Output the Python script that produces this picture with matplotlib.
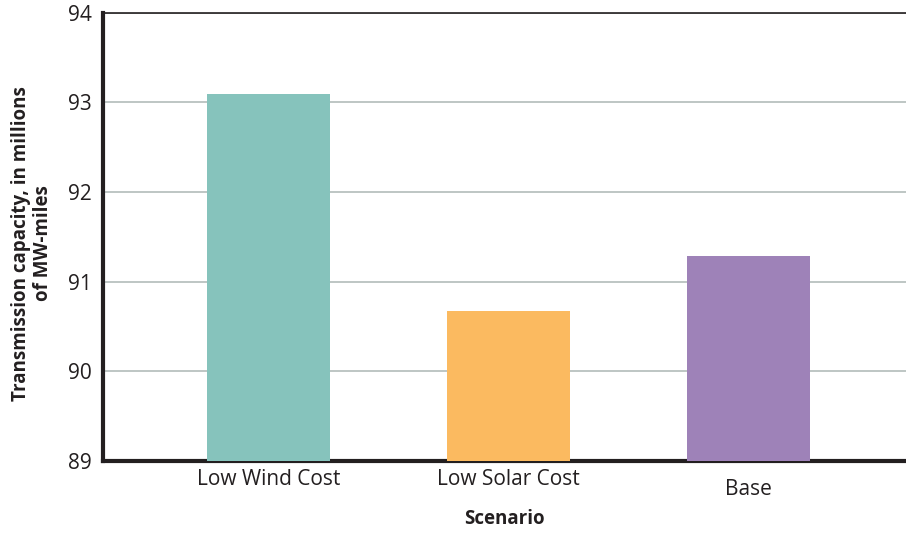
import matplotlib.pyplot as plt
import numpy as np

plt.rcParams['font.family'] = ['Open Sans', 'DejaVu Sans']

# scenario results
scenarios = ['Low Wind Cost', 'Low Solar Cost', 'Base']
capacity = [93.09, 90.67, 91.29]
colors = ['#86c3bc', '#fbba60', '#9e82b8']

fig = plt.figure(figsize=(9.06, 5.33), dpi=100)
ax = fig.add_axes([0.1137, 0.135, 0.8863, 0.8415])

x = np.arange(len(scenarios))
ax.bar(x, capacity, width=0.51, color=colors, zorder=3)

ax.set_ylim(89, 94)
ax.set_xlim(-0.69, 2.656)
ax.set_yticks(range(89, 95))
ax.set_xticks(x)
ax.set_xticklabels(scenarios)
ax.yaxis.grid(True, color='#b9c1bf', linewidth=1.3, zorder=0)

ax.tick_params(axis='both', length=0, labelsize=15, colors='#231f20')
ax.tick_params(axis='y', pad=8)
ax.tick_params(axis='x', pad=6)
ax.xaxis.get_major_ticks()[2].set_pad(13)

for s in ['left', 'bottom']:
    ax.spines[s].set_linewidth(3)
    ax.spines[s].set_color('#231f20')
ax.spines['top'].set_linewidth(1.2)
ax.spines['top'].set_color('#231f20')
ax.spines['right'].set_visible(False)

ax.set_ylabel('Transmission capacity, in millions\nof MW-miles', fontsize=13.5,
              fontweight='bold', color='#231f20', linespacing=1.15)
ax.yaxis.set_label_coords(-0.062, 0.485)
ax.set_xlabel('Scenario', fontsize=13.5, fontweight='bold', color='#231f20')
ax.xaxis.set_label_coords(0.5, -0.108)

fig.savefig('out.png', dpi=100)
